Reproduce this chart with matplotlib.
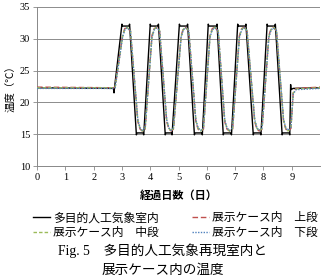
import matplotlib
matplotlib.use("Agg")
import matplotlib.pyplot as plt

plt.rcParams['font.family'] = ['Liberation Serif', 'Noto Sans CJK JP']

# Chamber (black solid)
room_x = [0, 2.70, 2.72, 2.74, 3.00, 3.02, 3.25, 3.27, 3.51, 3.53, 3.75, 3.77,
          4.00, 4.02, 4.27, 4.29, 4.53, 4.55, 4.75, 4.77,
          5.03, 5.05, 5.30, 5.32, 5.56, 5.58, 5.82, 5.84,
          6.05, 6.07, 6.34, 6.36, 6.58, 6.60, 6.85, 6.87,
          7.09, 7.11, 7.36, 7.38, 7.64, 7.66, 7.89, 7.91,
          8.13, 8.15, 8.40, 8.42, 8.66, 8.68, 8.91, 8.93,
          8.96, 8.97, 9.05, 10.0]
room_y = [22.3, 22.2, 21.5, 22.4, 32.3, 32.0, 32.0, 32.3, 14.9, 15.2, 15.2, 14.9,
          32.3, 32.0, 32.0, 32.3, 14.9, 15.2, 15.2, 14.9,
          32.3, 32.0, 32.0, 32.3, 14.9, 15.2, 15.2, 14.9,
          32.3, 32.0, 32.0, 32.3, 14.9, 15.2, 15.2, 14.9,
          32.3, 32.0, 32.0, 32.3, 14.9, 15.2, 15.2, 14.9,
          32.3, 32.0, 32.0, 32.3, 14.9, 15.2, 15.2, 14.9,
          22.8, 22.0, 22.2, 22.3]

# Case interior (upper, middle, lower)
case_x = [0, 2.72, 2.76, 3.02, 3.10, 3.18, 3.30, 3.56, 3.64, 3.72, 3.82,
          4.06, 4.14, 4.22, 4.33, 4.58, 4.66, 4.74, 4.82,
          5.09, 5.17, 5.25, 5.36, 5.61, 5.69, 5.78, 5.88,
          6.11, 6.19, 6.28, 6.40, 6.63, 6.71, 6.80, 6.91,
          7.15, 7.23, 7.31, 7.42, 7.69, 7.77, 7.85, 7.95,
          8.19, 8.27, 8.35, 8.46, 8.71, 8.79, 8.87, 8.97,
          9.05, 9.15, 10.0]
upper_y = [22.4, 22.3, 22.4, 30.5, 31.6, 31.8, 31.2, 17.0, 15.8, 15.5, 15.8,
           30.5, 31.6, 31.8, 31.2, 17.0, 15.8, 15.5, 15.8,
           30.5, 31.6, 31.8, 31.2, 17.0, 15.8, 15.5, 15.8,
           30.5, 31.6, 31.8, 31.2, 17.0, 15.8, 15.5, 15.8,
           30.5, 31.6, 31.8, 31.2, 17.0, 15.8, 15.5, 15.8,
           30.5, 31.6, 31.8, 31.2, 17.0, 15.8, 15.5, 15.9,
           21.5, 22.2, 22.4]
middle_y = [22.3, 22.3, 22.4, 30.3, 31.5, 31.8, 31.3, 17.2, 15.9, 15.5, 15.9,
            30.3, 31.5, 31.8, 31.3, 17.2, 15.9, 15.5, 15.9,
            30.3, 31.5, 31.8, 31.3, 17.2, 15.9, 15.5, 15.9,
            30.3, 31.5, 31.8, 31.3, 17.2, 15.9, 15.5, 15.9,
            30.3, 31.5, 31.8, 31.3, 17.2, 15.9, 15.5, 15.9,
            30.3, 31.5, 31.8, 31.3, 17.2, 15.9, 15.5, 16.0,
            21.4, 22.1, 22.3]
lower_y = [22.2, 22.2, 22.3, 30.2, 31.4, 31.7, 31.3, 17.3, 16.0, 15.6, 16.0,
           30.2, 31.4, 31.7, 31.3, 17.3, 16.0, 15.6, 16.0,
           30.2, 31.4, 31.7, 31.3, 17.3, 16.0, 15.6, 16.0,
           30.2, 31.4, 31.7, 31.3, 17.3, 16.0, 15.6, 16.0,
           30.2, 31.4, 31.7, 31.3, 17.3, 16.0, 15.6, 16.0,
           30.2, 31.4, 31.7, 31.3, 17.3, 16.0, 15.6, 16.1,
           21.3, 22.0, 22.2]

x_ticks = [0, 1, 2, 3, 4, 5, 6, 7, 8, 9]
y_ticks = [10, 15, 20, 25, 30, 35]
labels = ['多目的人工気象室内', '展示ケース内　上段', '展示ケース内　中段', '展示ケース内　下段']

fig = plt.figure(figsize=(3.22, 2.79), dpi=100)
ax = fig.add_axes([0.115, 0.405, 0.879, 0.57])

ax.plot(case_x, upper_y, color='#c0504d', lw=1.0, ls=(0, (4, 2)), label=labels[1], zorder=3)
ax.plot(case_x, middle_y, color='#9bbb59', lw=1.0, ls=(0, (2.5, 1.5)), label=labels[2], zorder=3)
ax.plot(case_x, lower_y, color='#4f81bd', lw=1.0, ls=(0, (1, 1)), label=labels[3], zorder=4)
ax.plot(room_x, room_y, color='black', lw=1.0, label=labels[0], zorder=2)

ax.set_xlim(0, 10)
ax.set_ylim(10, 35)
ax.set_xticks(x_ticks)
ax.set_yticks(y_ticks)
ax.tick_params(labelsize=7.5, length=3, width=0.6, color='#888888', pad=2)
ax.yaxis.grid(True, color='#8c8c8c', lw=0.7)
ax.set_axisbelow(True)
for s in ['top', 'right']:
    ax.spines[s].set_visible(False)
for s in ['left', 'bottom']:
    ax.spines[s].set_color('#888888')
    ax.spines[s].set_linewidth(0.7)

ax.set_ylabel('温度（℃）', fontsize=7.5, labelpad=3)
ax.set_xlabel('経過日数（日）', fontsize=8, labelpad=6, fontweight='bold')

h, l = ax.get_legend_handles_labels()
order = [3, 1, 0, 2]
fig.legend([h[i] for i in order], [l[i] for i in order], ncol=2, loc='upper center',
           bbox_to_anchor=(0.545, 0.26), frameon=False, fontsize=8.5,
           handlelength=1.4, handletextpad=0.3, columnspacing=2.8, labelspacing=0.25,
           borderpad=0)

fig.text(0.505, 0.102, 'Fig. 5　多目的人工気象再現室内と', ha='center', va='center', fontsize=9.8)
fig.text(0.505, 0.030, '展示ケース内の温度', ha='center', va='center', fontsize=9.8)

fig.savefig('out.png', dpi=100)
